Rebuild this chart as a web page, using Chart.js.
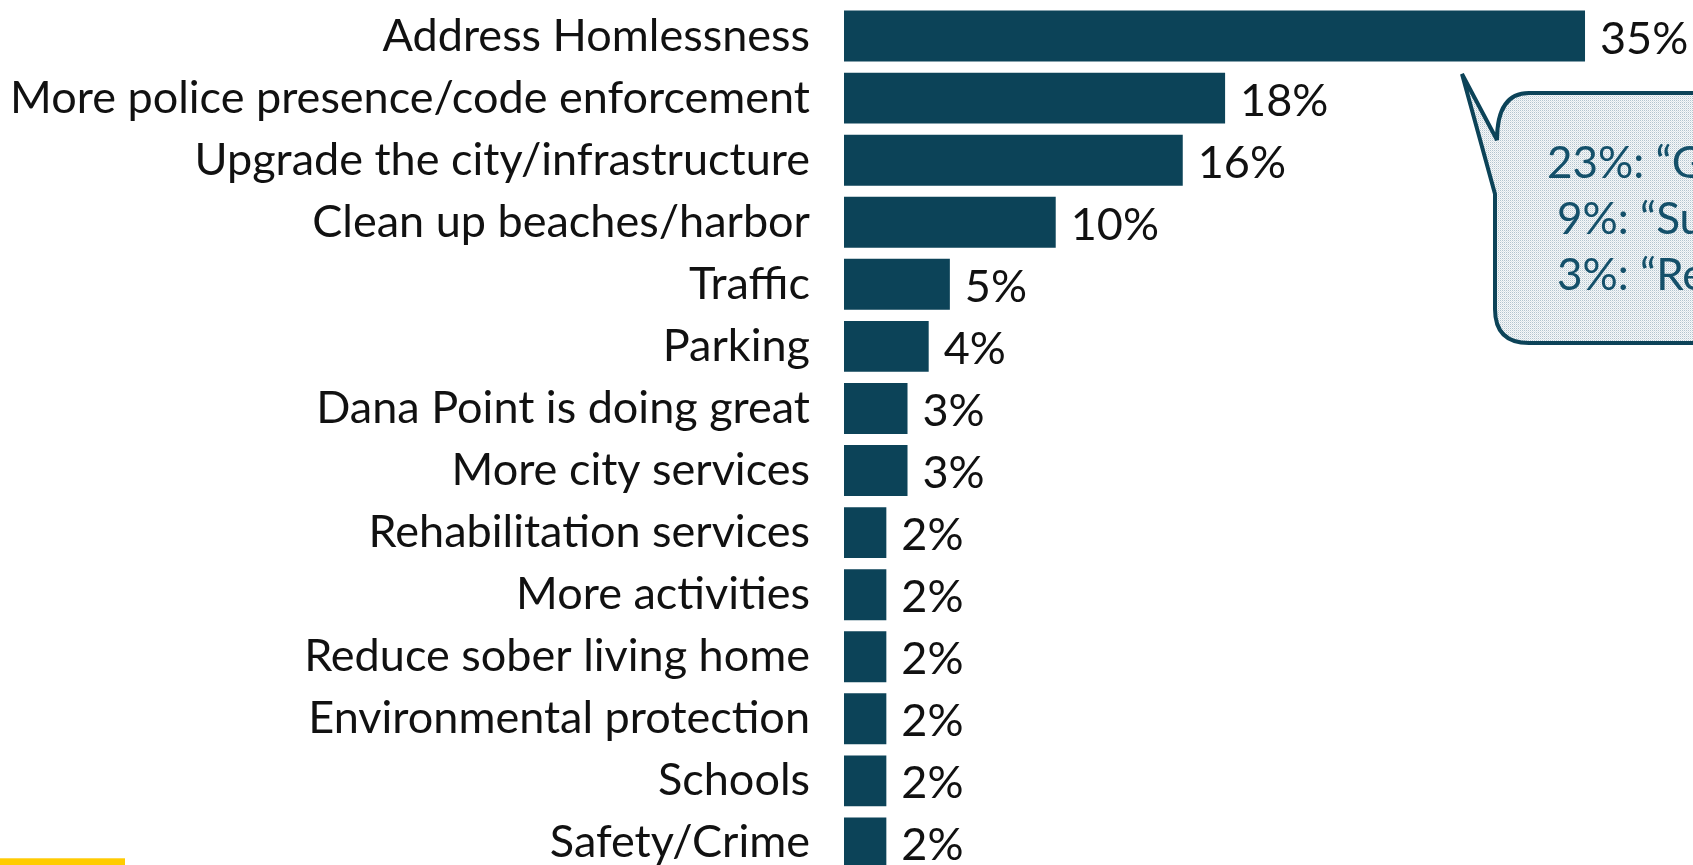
<!DOCTYPE html>
<html>
<head>
<meta charset="utf-8">
<script src="https://cdn.jsdelivr.net/npm/chart.js@4.4.1/dist/chart.umd.min.js"></script>
<style>
html,body{margin:0;padding:0;background:#fff;overflow:hidden;width:1693px;height:865px;}
#wrap{position:absolute;left:0;top:0;width:1693px;height:880px;}
</style>
</head>
<body>
<div id="wrap"><canvas id="c"></canvas></div>
<script>
const categories = [
  "Address Homlessness",
  "More police presence/code enforcement",
  "Upgrade the city/infrastructure",
  "Clean up beaches/harbor",
  "Traffic",
  "Parking",
  "Dana Point is doing great",
  "More city services",
  "Rehabilitation services",
  "More activities",
  "Reduce sober living home",
  "Environmental protection",
  "Schools",
  "Safety/Crime"
];
const values = [35, 18, 16, 10, 5, 4, 3, 3, 2, 2, 2, 2, 2, 2];
const calloutLines = ["23%: \u201CGet rid of homeless\u201D", "9%: \u201CSupport homeless\u201D", "3%: \u201CRemove homeless\u201D"];

const BAR = '#0c4358';
const FONT = 'Lato, "Open Sans", sans-serif';

function makePattern(ctx){
  const p = document.createElement('canvas');
  p.width = 2; p.height = 2;
  const g = p.getContext('2d');
  g.fillStyle = '#f6f8f9'; g.fillRect(0,0,2,2);
  g.fillStyle = '#b3c4ce'; g.fillRect(0,0,1,1);
  g.fillStyle = '#dce4e9'; g.fillRect(1,1,1,1);
  return ctx.createPattern(p,'repeat');
}

const extras = {
  id: 'extras',
  afterDatasetsDraw(chart){
    const ctx = chart.ctx;
    const meta = chart.getDatasetMeta(0);
    ctx.save();
    ctx.font = '45px ' + FONT;
    ctx.fillStyle = '#111';
    ctx.textAlign = 'left';
    ctx.textBaseline = 'middle';
    meta.data.forEach((bar, i) => {
      ctx.fillText(values[i] + '%', bar.x + 15, bar.y + 3);
    });
    ctx.restore();

    // callout
    ctx.save();
    const L = 1495, T = 93, B = 343, R = 1760, r = 34;
    ctx.beginPath();
    ctx.moveTo(L + r, T);
    ctx.lineTo(R, T);
    ctx.lineTo(R, B);
    ctx.lineTo(L + r, B);
    ctx.quadraticCurveTo(L, B, L, B - r);
    ctx.lineTo(L, 194);
    ctx.lineTo(1462, 74);
    ctx.lineTo(L + 2, 140);
    ctx.quadraticCurveTo(L + 2, T, L + r, T);
    ctx.closePath();
    ctx.fillStyle = makePattern(ctx);
    ctx.fill();
    ctx.lineWidth = 4;
    ctx.strokeStyle = BAR;
    ctx.miterLimit = 3;
    ctx.lineJoin = 'miter';
    ctx.stroke();
    ctx.fillStyle = '#14506a';
    ctx.font = '44px ' + FONT;
    ctx.textAlign = 'left';
    ctx.textBaseline = 'alphabetic';
    ctx.fillText(calloutLines[0], 1547, 178);
    ctx.fillText(calloutLines[1], 1557, 234);
    ctx.fillText(calloutLines[2], 1557, 290);
    ctx.restore();

    // yellow accent bar
    ctx.save();
    ctx.fillStyle = '#ffcc00';
    ctx.fillRect(0, 858, 125, 7);
    ctx.fillStyle = '#ffd84d';
    ctx.fillRect(0, 858, 125, 1);
    ctx.restore();
  }
};

new Chart(document.getElementById('c'), {
  type: 'bar',
  data: {
    labels: categories,
    datasets: [{
      data: values,
      backgroundColor: BAR,
      borderWidth: 0,
      barPercentage: 0.82,
      categoryPercentage: 1.0
    }]
  },
  options: {
    indexAxis: 'y',
    responsive: true,
    maintainAspectRatio: false,
    animation: false,
    layout: { padding: { top: 5, bottom: 6, left: 0, right: 0 } },
    plugins: { legend: { display: false }, tooltip: { enabled: false } },
    scales: {
      x: {
        display: false,
        min: 0,
        max: 40.1
      },
      y: {
        grid: { display: false, drawTicks: false },
        border: { display: false },
        ticks: {
          color: '#111',
          padding: 34,
          font: { family: FONT, size: 45 }
        },
        afterFit(scale){
          scale.width = 844;
          scale.paddingTop = 0;
          scale.paddingBottom = 0;
        }
      }
    }
  },
  plugins: [extras]
});
</script>
</body>
</html>
